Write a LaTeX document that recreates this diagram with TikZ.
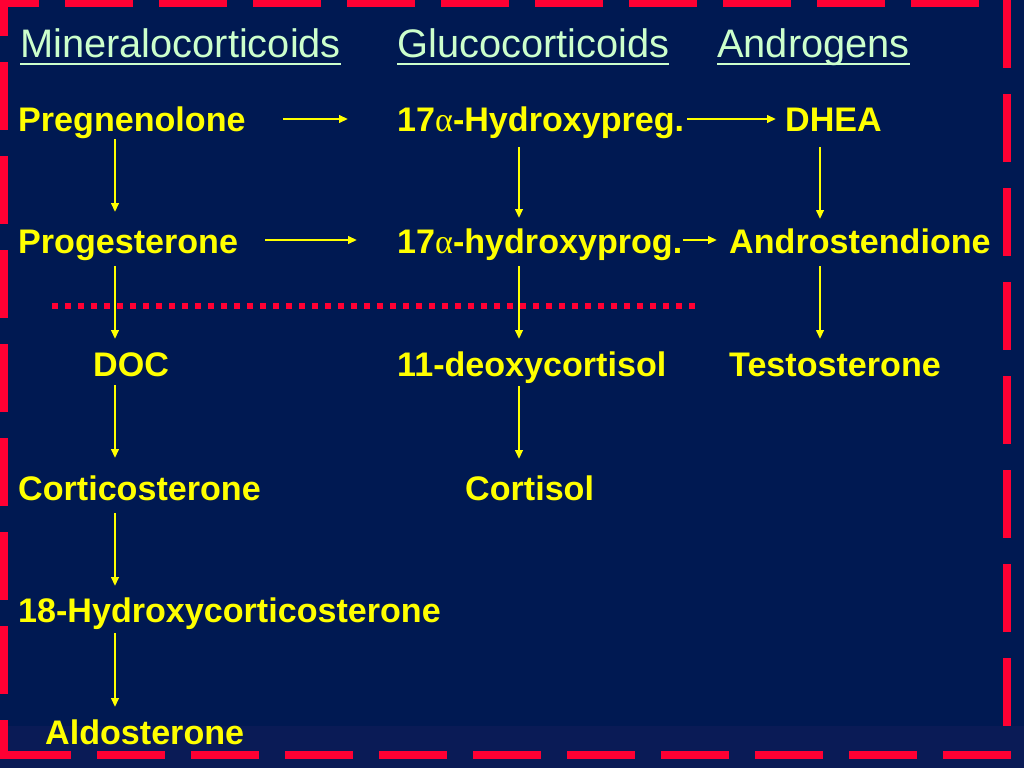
\documentclass[tikz,border=0pt]{standalone}
\usepackage{fontspec}
\setmainfont{Liberation Sans}
\newfontfamily\greekfont{Liberation Serif}
\usetikzlibrary{arrows.meta,calc}
\definecolor{navy}{RGB}{0,25,82}
\definecolor{navylow}{RGB}{10,27,86}
\definecolor{bred}{RGB}{255,0,51}
\definecolor{hdr}{RGB}{204,255,204}
\definecolor{yel}{RGB}{255,255,0}
\newcommand{\alf}{{\greekfont\mdseries α}}
\begin{document}
\begin{tikzpicture}[x=1pt,y=-1pt,
  hdrtext/.style={anchor=base west, inner sep=0pt, text=hdr, font=\fontsize{39.8}{46}\selectfont},
  chem/.style={anchor=base west, inner sep=0pt, text=yel, font=\fontsize{34.1}{40}\selectfont\bfseries},
  arr/.style={draw=yel, line width=2.2pt, -{Triangle[length=9pt,width=7.5pt]}},
  uline/.style={draw=hdr, line width=2pt},
  border/.style={draw=bred, line width=8pt, dash pattern=on 68pt off 26pt},
  sepline/.style={draw=bred, line width=6pt, dash pattern=on 6pt off 7pt}]
\useasboundingbox (0,0) rectangle (1024,768);
\clip (0,0) rectangle (1024,768);
\fill[navy] (0,0) rectangle (1024,768);
\fill[navylow] (0,726) rectangle (1024,768);
% border
\draw[border] (-29,3.5) -- (1011,3.5);
\draw[border] (1007,0) -- (1007,759);
\draw[border] (1011,755) -- (0,755);
\draw[border] (3.5,-32) -- (3.5,759);
% headers
\node[hdrtext] (mineral) at (20,58) {Mineralocorticoids};
\node[hdrtext] (gluco) at (397,58) {Glucocorticoids};
\node[hdrtext] (andro) at (717,58) {Androgens};
\foreach \h in {mineral,gluco,andro}
  \draw[uline] ($(\h.base west)+(0,6)$) -- ($(\h.base east)+(0,6)$);
% column coordinates
\coordinate (colA) at (115,0);
\coordinate (colB) at (519,0);
\coordinate (colC) at (820,0);
% nodes
\node[chem] (preg) at (18,131) {Pregnenolone};
\node[chem] (prog) at (18,253) {Progesterone};
\node[chem] (doc) at (93,376) {DOC};
\node[chem] (cort) at (18,500) {Corticosterone};
\node[chem] (hcort) at (18,622) {18-Hydroxycorticosterone};
\node[chem] (aldo) at (45,744) {Aldosterone};
\node[chem] (hpreg) at (397,131) {17\alf-Hydroxypreg.};
\node[chem] (hprog) at (397,253) {17\alf-hydroxyprog.};
\node[chem] (deoxy) at (397,376) {11-deoxycortisol};
\node[chem] (cortisol) at (465,500) {Cortisol};
\node[chem] (dhea) at (785,131) {DHEA};
\node[chem] (andione) at (729,253) {Androstendione};
\node[chem] (testo) at (729,376) {Testosterone};
% dotted separator
\draw[sepline] (52,306) -- (698,306);
% vertical arrows, left column
\draw[arr] ($(preg.base -| colA)+(0,8)$) -- ($(prog.base -| colA)+(0,-41)$);
\draw[arr] ($(prog.base -| colA)+(0,13)$) -- ($(doc.base -| colA)+(0,-37)$);
\draw[arr] ($(doc.base -| colA)+(0,9)$) -- ($(cort.base -| colA)+(0,-42)$);
\draw[arr] ($(cort.base -| colA)+(0,13)$) -- ($(hcort.base -| colA)+(0,-36)$);
\draw[arr] ($(hcort.base -| colA)+(0,11)$) -- ($(aldo.base -| colA)+(0,-37)$);
% middle column
\draw[arr] ($(hpreg.base -| colB)+(0,16)$) -- ($(hprog.base -| colB)+(0,-35)$);
\draw[arr] ($(hprog.base -| colB)+(0,13)$) -- ($(deoxy.base -| colB)+(0,-37)$);
\draw[arr] ($(deoxy.base -| colB)+(0,10)$) -- ($(cortisol.base -| colB)+(0,-41)$);
% right column
\draw[arr] ($(dhea.base -| colC)+(0,16)$) -- ($(andione.base -| colC)+(0,-34)$);
\draw[arr] ($(andione.base -| colC)+(0,13)$) -- ($(testo.base -| colC)+(0,-37)$);
% horizontal arrows
\draw[arr] ($(preg.base west)+(265,-12)$) -- ($(hpreg.base west)+(-49,-12)$);
\draw[arr] ($(prog.base west)+(247,-13)$) -- ($(hprog.base west)+(-40,-13)$);
\draw[arr] ($(hpreg.base west)+(290,-12)$) -- ($(dhea.base west)+(-9,-12)$);
\draw[arr] ($(hprog.base west)+(286,-13)$) -- ($(andione.base west)+(-12,-13)$);
\end{tikzpicture}
\end{document}
